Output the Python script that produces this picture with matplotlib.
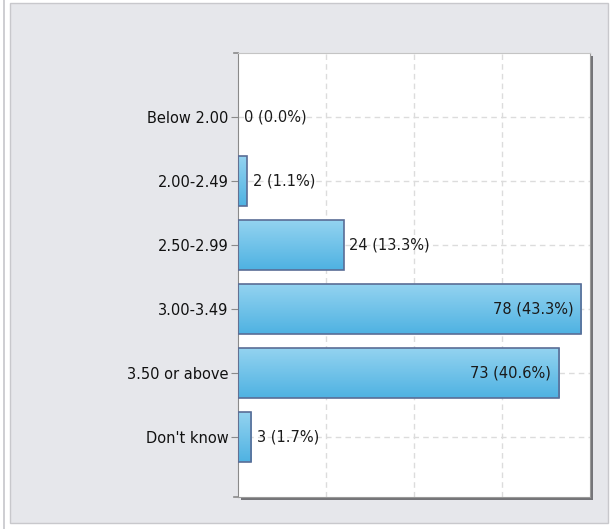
import matplotlib
matplotlib.use("Agg")
import matplotlib.pyplot as plt
import matplotlib.patches as patches
import numpy as np

categories = ["Below 2.00", "2.00-2.49", "2.50-2.99", "3.00-3.49", "3.50 or above", "Don't know"]
counts = [0, 2, 24, 78, 73, 3]
percents = [0.0, 1.1, 13.3, 43.3, 40.6, 1.7]

plt.rcParams["font.family"] = ["DejaVu Sans"]

fig = plt.figure(figsize=(6.16, 5.29), dpi=100)
fig.patch.set_facecolor("white")

# outer grey panel
fig.patches.append(patches.Rectangle((10 / 616, 6 / 529), 598 / 616, 520 / 529,
                                     transform=fig.transFigure, facecolor="#e6e7eb",
                                     edgecolor="#c8c8cc", linewidth=1, zorder=-3))
fig.patches.append(patches.Rectangle((3 / 616, 0), 1.5 / 616, 1,
                                     transform=fig.transFigure, facecolor="#cfcfd3",
                                     edgecolor="none", zorder=-3))

ax_left, ax_bottom, ax_w, ax_h = 238 / 616, 32 / 529, 352 / 616, 444 / 529
# drop shadow behind plot area
fig.patches.append(patches.Rectangle((ax_left + 3 / 616, ax_bottom - 3 / 529), ax_w, ax_h,
                                     transform=fig.transFigure, facecolor="#747478",
                                     edgecolor="none", zorder=-2))

ax = fig.add_axes([ax_left, ax_bottom, ax_w, ax_h])
ax.set_zorder(1)
ax.set_facecolor("white")

y = np.arange(len(categories))
bar_h = 0.78

# gradient fill for bars
grad = np.linspace(0, 1, 64).reshape(-1, 1)
cmap = matplotlib.colors.LinearSegmentedColormap.from_list("bar", ["#93d3f0", "#4fb2e2"])
for yi, v in zip(y, counts):
    if v <= 0:
        continue
    ax.imshow(grad, cmap=cmap, aspect="auto", origin="upper",
              extent=(0, v, yi + bar_h / 2, yi - bar_h / 2), zorder=2)
ax.barh(y, counts, height=bar_h, facecolor="none", edgecolor="#5a6d96",
        linewidth=[0 if v == 0 else 1.2 for v in counts], zorder=3)

for yi, v, p in zip(y, counts, percents):
    label = f"{v} ({p:.1f}%)"
    if v > 40:
        ax.text(v - 1.8, yi, label, ha="right", va="center", fontsize=10.5,
                color="#1a1a1a", zorder=4)
    else:
        ax.text(v + 1.3, yi, label, ha="left", va="center", fontsize=10.5,
                color="#1a1a1a", zorder=4)

ax.set_xlim(0, 80)
ax.set_ylim(5.94, -1)
ax.set_xticks([20, 40, 60])
ax.set_yticks(y)
ax.set_yticklabels(categories, fontsize=10.5, color="#111111")
ax.tick_params(axis="x", length=0, labelbottom=False)
ax.tick_params(axis="y", length=5, color="#8a8a8a", pad=2)
ax.grid(True, axis="both", linestyle=(0, (4, 3)), color="#dcdcdc", linewidth=1, zorder=0)
ax.set_axisbelow(True)

ax.spines["left"].set_color("#8a8a8a")
ax.spines["top"].set_color("#c4c4c4")
ax.spines["right"].set_color("#9a9a9a")
ax.spines["bottom"].set_color("#9a9a9a")

# end ticks on the left axis
for yy in (-1, 5.94):
    ax.plot([-0.012, 0], [yy, yy], transform=ax.get_yaxis_transform(), color="#8a8a8a",
            linewidth=1.2, clip_on=False)

fig.savefig("out.png", dpi=100)
